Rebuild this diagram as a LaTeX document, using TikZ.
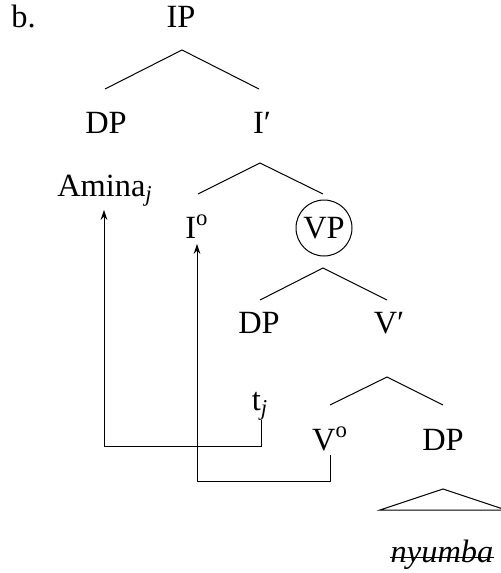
\documentclass[tikz,border=0pt]{standalone}
\usepackage{fontspec}
\setmainfont{Liberation Serif}
\usetikzlibrary{arrows.meta}
\begin{document}
\begin{tikzpicture}[x=0.5pt, y=-0.5pt,
    lbl/.style={anchor=base, inner sep=0pt, font=\fontsize{16.2}{19}\selectfont},
    branch/.style={black, line width=0.5pt},
    mv/.style={black, line width=0.5pt, -{Stealth[length=5pt,width=3.4pt]}}]
                \useasboundingbox (0,0) rectangle (501,573);
                \node[lbl, anchor=base west] (ex) at (11,27) {b.};
                \node[lbl] (ip) at (181,27) {IP};
                \node[lbl] (dpa) at (106,133) {DP};
                \node[lbl] (ibar) at (262,133) {I′};
                \node[lbl] (amina) at (105,196) {Amina\textsubscript{\textit{j}}};
                \node[lbl] (izero) at (197,238) {I\textsuperscript{o}};
                \node[lbl] (vp) at (324,238) {VP};
                \node[lbl] (dpb) at (259,333) {DP};
                \node[lbl] (vbar) at (389,333) {V′};
                \node[lbl] (tj) at (260,410) {t\textsubscript{\textit{j}}};
                \node[lbl] (vzero) at (330,450) {V\textsuperscript{o}};
                \node[lbl] (dpc) at (443,450) {DP};
                \node[lbl] (nyumba) at (442,562) {\textit{nyumba}};
                \draw[black, line width=0.5pt] (324,228) circle (28);
                \draw[black, line width=0.8pt] ([yshift=2.2pt]nyumba.base west) -- ([yshift=2.2pt]nyumba.base east);
                \coordinate (ip-top) at (182,50);
                \coordinate (ip-l) at (105,89);
                \coordinate (ip-r) at (259,89);
                \coordinate (ibar-top) at (260,163);
                \coordinate (ibar-l) at (198,194);
                \coordinate (ibar-r) at (323,194);
                \coordinate (vp-top) at (323,268);
                \coordinate (vp-l) at (260,300);
                \coordinate (vp-r) at (387,300);
                \coordinate (vbar-top) at (387,377);
                \coordinate (vbar-l) at (330,405);
                \coordinate (vbar-r) at (443,405);
                \coordinate (dpc-top) at (443,489);
                \coordinate (dpc-l) at (380,510);
                \coordinate (dpc-r) at (506,510);
                \coordinate (tj-foot) at (261,420);
                \coordinate (amina-tip) at (104,210);
                \coordinate (vzero-foot) at (330,455);
                \coordinate (izero-tip) at (197,244);
                \draw[branch] (ip-l) -- (ip-top) -- (ip-r);
                \draw[branch] (ibar-l) -- (ibar-top) -- (ibar-r);
                \draw[branch] (vp-l) -- (vp-top) -- (vp-r);
                \draw[branch] (vbar-l) -- (vbar-top) -- (vbar-r);
                \draw[branch] (dpc-l) -- (dpc-top) -- (dpc-r) -- cycle;
                \draw[mv] (tj-foot) -- ++(0,26) -| (amina-tip);
                \draw[mv] (vzero-foot) -- ++(0,26) -| (izero-tip);
            \end{tikzpicture}
\end{document}
